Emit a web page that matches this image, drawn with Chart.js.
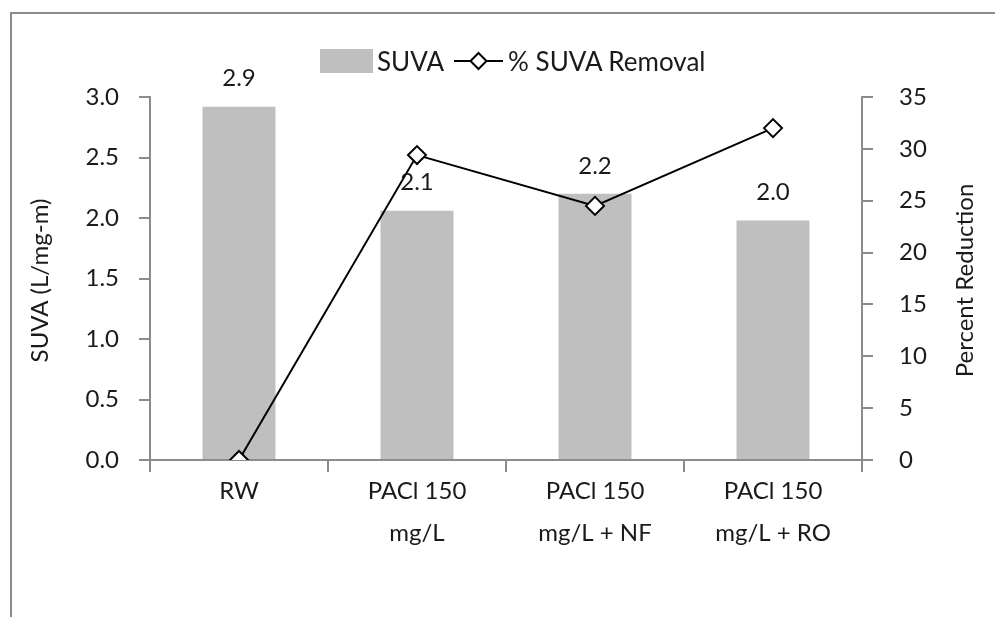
<!DOCTYPE html>
<html lang="en">
<head>
<meta charset="UTF-8" />
<title>SUVA and % SUVA Removal</title>
<script src="https://cdn.jsdelivr.net/npm/chart.js"></script>
<style>
  html, body { margin: 0; padding: 0; background: #fff; }
  #wrap { position: relative; width: 995px; height: 617px; overflow: hidden; }
  #frame {
    position: absolute; left: 10px; top: 12px; width: 1000px; height: 620px;
    border-top: 2px solid #8c8c8c; border-left: 2px solid #8c8c8c;
  }
  #legend {
    position: absolute; left: 320px; top: 46px; height: 30px;
    display: flex; align-items: center;
    font-family: Lato, sans-serif; font-size: 26px; color: #1a1a1a;
  }
  #legend .box { width: 53px; height: 24px; background: #bfbfbf; margin-right: 4px; }
  #legend svg { margin: 0 5px 0 10px; }
  canvas { position: absolute; left: 0; top: 0; }
</style>
</head>
<body>
<div id="wrap">
  <div id="frame"></div>
  <canvas id="suvaChart" width="995" height="617"></canvas>
  <div id="legend">
    <span class="box"></span><span>SUVA</span>
    <svg width="49" height="20" viewBox="0 0 49 20">
      <line x1="0" y1="10" x2="49" y2="10" stroke="#000" stroke-width="2"/>
      <polygon points="24.5,2 32.5,10 24.5,18 16.5,10" fill="#fff" stroke="#000" stroke-width="2"/>
    </svg>
    <span>% SUVA Removal</span>
  </div>
</div>

<script>
  const categories = [['RW'], ['PACl 150', 'mg/L'], ['PACl 150', 'mg/L + NF'], ['PACl 150', 'mg/L + RO']];
  const suvaValues = [2.92, 2.06, 2.20, 1.98];
  const suvaLabels = ['2.9', '2.1', '2.2', '2.0'];
  const removalValues = [0, 29.4, 24.5, 32.0];
  const leftTitle = 'SUVA (L/mg-m)';
  const rightTitle = 'Percent Reduction';

  const FONT = 'Lato, sans-serif';
  const TEXT = '#1a1a1a';
  const AXIS = '#8c8c8c';

  // value labels above the bars + rotated axis titles
  const extraText = {
    id: 'extraText',
    afterDatasetsDraw(chart) {
      const ctx = chart.ctx;
      const meta = chart.getDatasetMeta(1);
      ctx.save();
      ctx.font = '24px ' + FONT;
      ctx.fillStyle = TEXT;
      ctx.textAlign = 'center';
      ctx.textBaseline = 'bottom';
      meta.data.forEach((bar, i) => {
        ctx.fillText(suvaLabels[i], bar.x, bar.y - 16);
      });
      const midY = (chart.chartArea.top + chart.chartArea.bottom) / 2;
      ctx.textBaseline = 'middle';
      [[40, leftTitle], [965, rightTitle]].forEach(([x, t]) => {
        ctx.save();
        ctx.translate(x, midY + 2);
        ctx.rotate(-Math.PI / 2);
        ctx.fillText(t, 0, 0);
        ctx.restore();
      });
      ctx.restore();
    }
  };

  const ctx = document.getElementById('suvaChart').getContext('2d');

  new Chart(ctx, {
    data: {
      labels: categories,
      datasets: [
        {
          type: 'line',
          label: '% SUVA Removal',
          data: removalValues,
          yAxisID: 'y2',
          borderColor: '#000',
          borderWidth: 2,
          pointStyle: 'rectRot',
          pointRadius: 9,
          pointBorderWidth: 2,
          pointBackgroundColor: '#fff',
          pointBorderColor: '#000',
          tension: 0,
          order: 0
        },
        {
          type: 'bar',
          label: 'SUVA',
          data: suvaValues,
          yAxisID: 'y',
          backgroundColor: '#bfbfbf',
          categoryPercentage: 1,
          barPercentage: 0.41,
          order: 1
        }
      ]
    },
    options: {
      responsive: false,
      animation: false,
      layout: { padding: { top: 97, right: 0, left: 0, bottom: 0 } },
      plugins: {
        legend: { display: false },
        tooltip: { enabled: false }
      },
      scales: {
        x: {
          offset: true,
          grid: { display: true, drawOnChartArea: false, offset: true, color: AXIS, tickLength: 12, lineWidth: 2 },
          border: { color: AXIS, width: 2 },
          ticks: { color: TEXT, font: { family: FONT, size: 24, lineHeight: 1.75 }, padding: -2, maxRotation: 0 },
          afterFit(scale) { scale.height = 157; }
        },
        y: {
          position: 'left',
          min: 0,
          max: 3,
          ticks: {
            stepSize: 0.5, color: TEXT, font: { family: FONT, size: 24 }, padding: 20,
            callback: v => v.toFixed(1)
          },
          grid: { display: true, drawOnChartArea: false, color: AXIS, tickLength: 11, lineWidth: 2 },
          border: { color: AXIS, width: 2 },
          afterFit(scale) { scale.width = 150; }
        },
        y2: {
          position: 'right',
          min: 0,
          max: 35,
          ticks: { stepSize: 5, color: TEXT, font: { family: FONT, size: 24 }, padding: 26 },
          grid: { display: true, drawOnChartArea: false, color: AXIS, tickLength: 11, lineWidth: 2 },
          border: { color: AXIS, width: 2 },
          afterFit(scale) { scale.width = 133; }
        }
      }
    },
    plugins: [extraText]
  });
</script>
</body>
</html>
